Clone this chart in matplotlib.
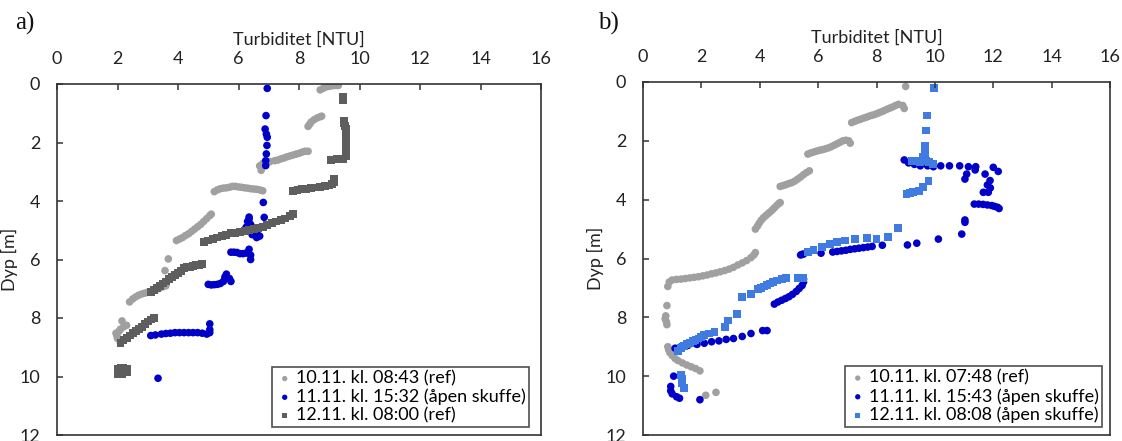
import matplotlib
matplotlib.use("Agg")
import matplotlib.pyplot as plt

plt.rcParams['font.family'] = ['Lato', 'DejaVu Sans']

# ---- panel a) ----
a_ref10_x = [8.7, 8.8, 8.9, 9.0, 9.1, 9.2, 9.3,
             8.3, 8.35, 8.4, 8.5, 8.6, 8.7, 8.75,
             6.75, 6.7, 6.8, 6.85, 6.95, 7.05, 7.2, 7.3, 7.4, 7.5, 7.6, 7.7,
             7.8, 7.9, 8.0, 8.1, 8.2, 8.3,
             5.2, 5.3, 5.4, 5.5, 5.6, 5.7, 5.8, 5.9, 6.0, 6.1, 6.2, 6.3, 6.4,
             6.5, 6.6, 6.7, 6.8,
             3.95, 4.05, 4.15, 4.25, 4.35, 4.45, 4.55, 4.65, 4.75, 4.85, 4.95,
             5.05, 5.1,
             3.68, 3.57,
             2.4, 2.5, 2.6, 2.7, 2.8, 2.9, 3.0, 3.1, 3.2, 3.3, 3.4, 3.5, 3.6,
             2.15, 2.3, 2.2, 2.1, 2.05, 1.95, 1.98, 2.0, 2.1]
a_ref10_y = [0.2, 0.15, 0.1, 0.08, 0.06, 0.05, 0.05,
             1.45, 1.38, 1.3, 1.22, 1.16, 1.12, 1.1,
             2.95, 2.8, 2.72, 2.7, 2.67, 2.65, 2.62, 2.6, 2.56, 2.53, 2.49, 2.46,
             2.43, 2.4, 2.37, 2.33, 2.3, 2.3,
             3.68, 3.62, 3.58, 3.56, 3.55, 3.53, 3.5, 3.5, 3.52, 3.53, 3.55,
             3.56, 3.58, 3.59, 3.6, 3.62, 3.65,
             5.35, 5.3, 5.25, 5.18, 5.12, 5.04, 4.96, 4.88, 4.8, 4.7, 4.6,
             4.5, 4.45,
             5.98, 6.38,
             7.45, 7.35, 7.28, 7.22, 7.18, 7.15, 7.12, 7.1, 7.06, 7.02, 6.97, 6.93,
             6.9,
             8.1, 8.25, 8.3, 8.38, 8.45, 8.52, 8.6, 8.7, 8.85]

a_open11_x = [6.95, 6.91, 6.88, 6.92, 6.95, 6.94, 6.92, 6.9, 6.9,
              6.82, 6.85,
              6.35, 6.3, 6.4, 6.25, 6.5, 6.6, 6.7, 6.45, 6.55, 6.35, 6.6,
              5.75, 5.85, 5.95, 6.05, 6.15, 6.25, 6.35, 6.4, 6.4,
              5.0, 5.1, 5.2, 5.3, 5.4, 5.5, 5.55, 5.6, 5.7, 5.75,
              3.1, 3.25, 3.45, 3.6, 3.75, 3.9, 4.05, 4.2, 4.35, 4.5, 4.65, 4.8,
              4.95, 5.05, 5.05, 5.05,
              3.34]
a_open11_y = [0.15, 1.08, 1.54, 1.71, 1.82, 2.1, 2.39, 2.62, 2.79,
              4.05, 4.56,
              4.55, 4.7, 4.8, 4.9, 5.0, 5.1, 5.2, 5.15, 4.95, 4.62, 5.25,
              5.75, 5.75, 5.76, 5.8, 5.8, 5.78, 5.65, 5.85, 6.0,
              6.85, 6.87, 6.86, 6.85, 6.82, 6.75, 6.6, 6.5, 6.65, 6.75,
              8.6, 8.58, 8.55, 8.53, 8.52, 8.5, 8.5, 8.5, 8.5, 8.5, 8.5, 8.52,
              8.55, 8.5, 8.4, 8.2,
              10.06]

a_ref12_x = [9.45, 9.45,
             9.5, 9.5, 9.52, 9.55, 9.55, 9.55, 9.55, 9.55, 9.55, 9.55, 9.55,
             9.05, 9.15, 9.25, 9.35, 9.45,
             7.8, 7.95, 8.1, 8.25, 8.4, 8.55, 8.7, 8.85, 9.0, 9.1, 9.15, 9.15,
             4.85, 5.0, 5.15, 5.3, 5.45, 5.6, 5.75, 5.9, 6.05, 6.2, 6.35, 6.5,
             6.65, 6.8, 6.95, 7.1, 7.25, 7.4, 7.55, 7.7, 7.8,
             3.1, 3.2, 3.3, 3.4, 3.5, 3.6, 3.7, 3.8, 3.9, 4.0, 4.1, 4.2, 4.3,
             4.4, 4.5, 4.6, 4.7, 4.8,
             2.1, 2.2, 2.3, 2.4, 2.5, 2.6, 2.7, 2.8, 2.9, 3.0, 3.1, 3.2,
             2.0, 2.1, 2.2, 2.3, 2.0, 2.15, 2.3]
a_ref12_y = [0.45, 0.55,
             1.25, 1.35, 1.45, 1.55, 1.65, 1.75, 1.85, 1.95, 2.05, 2.25, 2.45,
             2.6, 2.58, 2.56, 2.55, 2.55,
             3.65, 3.62, 3.6, 3.58, 3.56, 3.54, 3.52, 3.5, 3.47, 3.42, 3.35, 3.25,
             5.4, 5.35, 5.3, 5.25, 5.2, 5.15, 5.1, 5.08, 5.05, 5.03, 5.0, 4.97,
             4.93, 4.88, 4.82, 4.75, 4.7, 4.65, 4.6, 4.52, 4.45,
             7.1, 7.03, 6.96, 6.9, 6.82, 6.75, 6.68, 6.6, 6.52, 6.45, 6.38, 6.3,
             6.27, 6.25, 6.22, 6.2, 6.18, 6.15,
             8.85, 8.75, 8.67, 8.6, 8.52, 8.45, 8.38, 8.3, 8.2, 8.12, 8.05, 8.0,
             9.75, 9.7, 9.7, 9.75, 9.9, 9.9, 9.85]

# ---- panel b) ----
b_ref10_x = [9.0,
             7.15, 7.25, 7.35, 7.45, 7.55, 7.65, 7.75, 7.85, 7.95, 8.05, 8.15,
             8.25, 8.35, 8.45, 8.55, 8.65, 8.75, 8.9, 8.95,
             5.65, 5.75, 5.85, 5.95, 6.05, 6.15, 6.25, 6.35, 6.45, 6.55, 6.65,
             6.75, 6.85, 6.95, 7.05, 7.1,
             4.7, 4.8, 4.9, 5.0, 5.1, 5.2, 5.3, 5.4, 5.5, 5.6, 5.7,
             3.85, 3.92, 3.98, 4.05, 4.12, 4.2, 4.28, 4.35, 4.43, 4.5, 4.58, 4.65,
             4.7,
             0.85, 0.9, 1.0, 1.15, 1.3, 1.45, 1.6, 1.75, 1.9, 2.05, 2.2, 2.35,
             2.5, 2.65, 2.8, 2.95, 3.1, 3.25, 3.4, 3.55, 3.7, 3.8, 3.85,
             0.82, 0.78, 0.76, 0.8, 0.82,
             0.85, 0.88, 0.92, 1.0, 1.1, 1.2, 1.35, 1.5, 1.65, 1.8, 1.95,
             2.15, 2.5]
b_ref10_y = [0.15,
             1.38, 1.34, 1.3, 1.27, 1.23, 1.2, 1.16, 1.13, 1.1, 1.06, 1.02,
             0.98, 0.93, 0.89, 0.85, 0.8, 0.76, 0.8, 0.9,
             2.45, 2.41, 2.38, 2.35, 2.32, 2.3, 2.27, 2.24, 2.2, 2.15, 2.1,
             2.05, 2.0, 1.98, 2.0, 2.08,
             3.55, 3.52, 3.49, 3.45, 3.42, 3.37, 3.3, 3.23, 3.15, 3.08, 3.02,
             5.0, 4.9, 4.8, 4.7, 4.62, 4.55, 4.48, 4.42, 4.35, 4.28, 4.2, 4.13,
             4.1,
             6.95, 6.8, 6.73, 6.71, 6.7, 6.68, 6.66, 6.64, 6.62, 6.59, 6.56, 6.52,
             6.49, 6.45, 6.41, 6.36, 6.3, 6.22, 6.15, 6.07, 5.97, 5.88, 5.8,
             7.6, 7.95, 8.05, 8.15, 8.25,
             9.0, 9.1, 9.2, 9.3, 9.4, 9.47, 9.55, 9.62, 9.68, 9.74, 9.82,
             10.65, 10.55]

b_open11_x = [8.95, 9.1, 9.3, 9.5, 9.75, 9.95, 10.2, 10.5, 10.85, 11.15, 11.4,
              11.03, 11.09, 11.38, 11.72, 11.89, 12.0, 12.17, 11.83, 11.66,
              11.8, 11.9,
              11.35, 11.5, 11.65, 11.8, 11.95, 12.05, 12.15, 12.2,
              11.03, 11.03, 10.92,
              10.12, 9.38, 9.06,
              5.4, 5.45, 5.5, 6.1, 6.5, 6.65, 6.8, 6.95, 7.1, 7.25, 7.4, 7.55,
              7.7, 7.85, 8.2,
              4.5, 4.62, 4.75, 4.88, 5.0, 5.12, 5.25, 5.35, 5.45, 5.5, 5.5,
              1.1, 1.3, 1.55, 1.85, 2.1, 2.35, 2.6, 2.85, 3.1, 3.4, 3.7, 4.1, 4.25,
              1.05, 0.95, 0.95, 1.0, 1.15, 1.25, 1.95]
b_open11_y = [2.65, 2.75, 2.8, 2.85, 2.85, 2.88, 2.85, 2.85, 2.85, 2.88, 2.88,
              3.3, 3.13, 2.99, 3.13, 3.35, 2.9, 3.04, 3.75, 3.75,
              3.5, 3.6,
              4.15, 4.15, 4.16, 4.18, 4.2, 4.23, 4.26, 4.3,
              4.69, 4.77, 5.17,
              5.34, 5.48, 5.54,
              5.88, 5.86, 5.85, 5.82, 5.78, 5.76, 5.74, 5.72, 5.69, 5.67, 5.65,
              5.63, 5.61, 5.59, 5.55,
              7.55, 7.48, 7.42, 7.36, 7.3, 7.22, 7.12, 7.02, 6.92, 6.8, 6.7,
              9.05, 9.0, 8.95, 8.92, 8.88, 8.83, 8.8, 8.75, 8.72, 8.65, 8.55, 8.45,
              8.45,
              10.0, 10.35, 10.5, 10.6, 10.7, 10.75, 10.8]

b_open12_x = [9.97,
              9.72, 9.7, 9.67, 9.65,
              9.2, 9.3, 9.4, 9.5, 9.6, 9.7, 9.8, 9.95, 9.6, 9.65,
              9.78, 9.6, 9.03, 9.15, 9.25, 9.35, 9.45,
              8.75,
              8.4, 8.0, 7.66, 7.26, 6.92, 6.64, 6.41, 6.12, 5.84, 5.66,
              3.4, 3.7, 3.95, 4.05, 4.15, 4.25, 4.35, 4.45, 4.6, 4.75, 4.9, 5.3,
              5.5,
              3.21, 2.92, 2.81,
              1.2, 1.3, 1.4, 1.5, 1.6, 1.7, 1.8, 1.9, 2.0, 2.1, 2.25, 2.45,
              1.3, 1.35, 1.35, 1.4]
b_open12_y = [0.2,
              1.14, 1.65, 2.16, 2.45,
              2.7, 2.7, 2.7, 2.72, 2.7, 2.7, 2.72, 2.8, 2.55, 2.4,
              3.38, 3.58, 3.81, 3.78, 3.75, 3.72, 3.7,
              4.96,
              5.28, 5.34, 5.3, 5.34, 5.39, 5.45, 5.51, 5.62, 5.7, 5.79,
              7.32, 7.2, 7.05, 7.0, 6.95, 6.9, 6.85, 6.8, 6.75, 6.7, 6.65, 6.65,
              6.65,
              7.89, 8.11, 8.34,
              9.15, 9.05, 8.98, 8.92, 8.86, 8.8, 8.76, 8.72, 8.66, 8.6, 8.55, 8.5,
              9.95, 10.1, 10.25, 10.4]

a_labels = ['10.11. kl. 08:43 (ref)', '11.11. kl. 15:32 (åpen skuffe)',
            '12.11. kl. 08:00 (ref)']
b_labels = ['10.11. kl. 07:48 (ref)', '11.11. kl. 15:43 (åpen skuffe)',
            '12.11. kl. 08:08 (åpen skuffe)']

LIGHT_GREY = '#a0a0a0'
DARK_GREY = '#5e5e5e'
DARK_BLUE = '#0000c8'
LIGHT_BLUE = '#3f7be0'
FS = 13


def style_axis(ax):
    ax.set_xlim(0, 16)
    ax.set_ylim(12, 0)
    ax.set_xticks(range(0, 17, 2))
    ax.set_yticks(range(0, 13, 2))
    ax.xaxis.set_ticks_position('top')
    ax.xaxis.set_label_position('top')
    ax.tick_params(axis='both', direction='in', length=4, width=1.1,
                   color='#333333', labelsize=FS, labelcolor='#222222', pad=12)
    ax.tick_params(axis='y', left=True, right=False)
    ax.set_xlabel('Turbiditet [NTU]', fontsize=FS, color='#222222', labelpad=5)
    ax.set_ylabel('Dyp [m]', fontsize=FS, color='#222222', labelpad=1)
    for sp in ax.spines.values():
        sp.set_color('#333333')
        sp.set_linewidth(1.2)


def add_legend(ax, xanchor):
    leg = ax.legend(loc='lower right', bbox_to_anchor=(xanchor, 0.023),
                    borderaxespad=0, fontsize=FS, frameon=True, fancybox=False,
                    edgecolor='#222222', handletextpad=0.1, handlelength=1.0,
                    labelspacing=0.12, borderpad=0.2, markerscale=0.7)
    leg.get_frame().set_linewidth(1.2)


fig = plt.figure(figsize=(11.22, 4.41), dpi=100)
ax_a = fig.add_axes([57 / 1122, 6 / 441, 484 / 1122, 351 / 441])
ax_b = fig.add_axes([643 / 1122, 6 / 441, 467 / 1122, 353 / 441])

ax_a.scatter(a_ref10_x, a_ref10_y, s=30, marker='o', color=LIGHT_GREY,
             edgecolors='none', label=a_labels[0])
ax_a.scatter(a_open11_x, a_open11_y, s=30, marker='o', color=DARK_BLUE,
             edgecolors='none', label=a_labels[1])
ax_a.scatter(a_ref12_x, a_ref12_y, s=32, marker='s', color=DARK_GREY,
             edgecolors='none', label=a_labels[2])
style_axis(ax_a)
add_legend(ax_a, 0.975)

ax_b.scatter(b_ref10_x, b_ref10_y, s=30, marker='o', color=LIGHT_GREY,
             edgecolors='none', label=b_labels[0])
ax_b.scatter(b_open11_x, b_open11_y, s=30, marker='o', color=DARK_BLUE,
             edgecolors='none', label=b_labels[1])
ax_b.scatter(b_open12_x, b_open12_y, s=32, marker='s', color=LIGHT_BLUE,
             edgecolors='none', label=b_labels[2])
style_axis(ax_b)
add_legend(ax_b, 0.983)

fig.text(15 / 1122, 1 - 23 / 441, 'a)', family='Liberation Serif', fontsize=18,
         va='center', ha='left', color='#111111')
fig.text(598 / 1122, 1 - 23 / 441, 'b)', family='Liberation Serif', fontsize=18,
         va='center', ha='left', color='#111111')

fig.savefig('out.png', dpi=100)
